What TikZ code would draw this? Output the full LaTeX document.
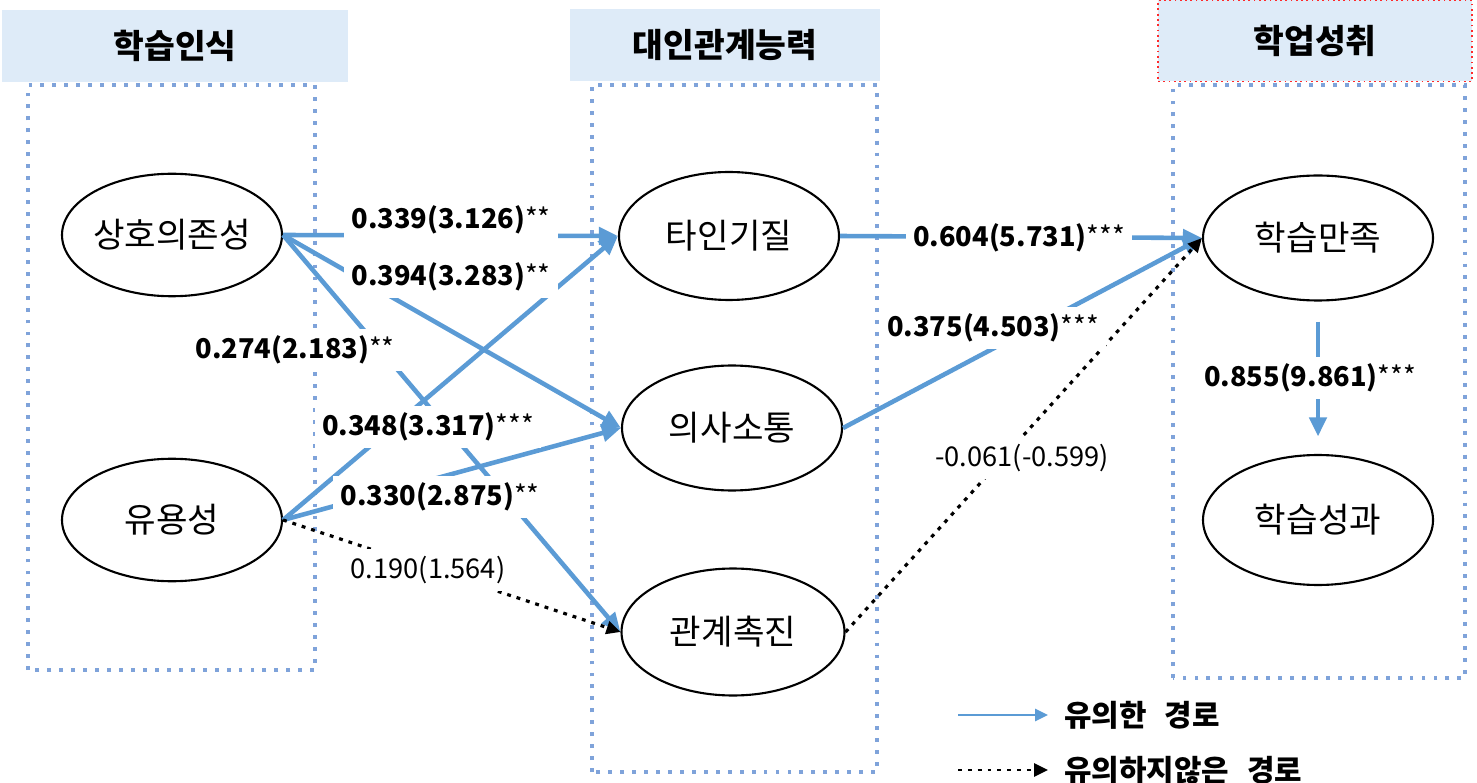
\documentclass[tikz,border=0pt]{standalone}
\usepackage{fontspec}
\setmainfont{Noto Sans CJK KR}
\usepackage{xcolor}
\usepackage{tikz}
\usetikzlibrary{shapes.geometric,arrows.meta,positioning}
\definecolor{azul}{HTML}{5B9BD5}
\definecolor{azulclaro}{HTML}{DEEBF8}
\definecolor{azulpunto}{HTML}{7FA3DA}
\definecolor{rojo}{HTML}{FF2A2A}
\tikzset{
  elipse/.style={draw,ellipse,line width=1.2pt,inner xsep=-6pt,inner ysep=0pt,minimum width=4.4cm,minimum height=2.45cm,font=\fontsize{19.5}{22}\selectfont},
  titulo/.style={fill=azulclaro,minimum height=1.45cm,font=\fontsize{19}{22}\selectfont\bfseries},
  zona/.style={draw=azulpunto,line width=1.9pt,dash pattern=on 2.2pt off 4.6pt},
  flecha/.style={-{Triangle[length=3.8mm,width=3.4mm]},line width=2.6pt,azul},
  flechap/.style={-{Triangle[length=2.8mm,width=2.6mm]},line width=1.8pt,black,dash pattern=on 2.2pt off 3.4pt},
  etiqueta/.style={fill=white,inner xsep=4pt,inner ysep=4pt,font=\fontsize{15.5}{18}\selectfont},
  leyenda/.style={anchor=west,font=\fontsize{17}{20}\selectfont\bfseries},
}

\begin{document}
\begin{tikzpicture}
  \useasboundingbox (0,0) rectangle (29.54,15.64);
  % cabeceras y zonas
  \node[titulo,minimum width=6.92cm] (h1) at (3.5,14.72) {학습인식};
  \node[titulo,minimum width=6.2cm] (h2) at (14.5,14.74) {대인관계능력};
  \node[titulo,minimum width=6.28cm,minimum height=1.62cm,draw=rojo,line width=1pt,dash pattern=on 1pt off 2pt] (h3) at (26.3,14.82) {학업성취};
  \draw[zona] (0.56,2.24) rectangle (6.3,13.94);
  \draw[zona] (11.84,0.2) rectangle (17.54,13.94);
  \draw[zona] (23.46,2.08) rectangle (29.3,13.94);

  % variables
  \node[elipse] (inter) at (3.44,10.94) {상호의존성};
  \node[elipse] (util) at (3.44,5.24) {유용성};
  \node[elipse,minimum height=2.56cm] (otros) at (14.58,10.92) {타인기질};
  \node[elipse,minimum height=2.5cm] (comun) at (14.64,7.08) {의사소통};
  \node[elipse,minimum width=4.46cm,minimum height=2.54cm] (facil) at (14.66,3.0) {관계촉진};
  \node[elipse,minimum width=4.6cm,minimum height=2.5cm] (satis) at (26.36,10.88) {학습만족};
  \node[elipse,minimum width=4.6cm,minimum height=2.6cm] (result) at (26.36,5.24) {학습성과};

  % caminos
  \draw[flecha] (inter.east) -- (otros.west);
  \draw[flecha] (inter.east) -- (comun.west);
  \draw[flecha] (inter.east) -- (facil.west);
  \draw[flecha] (util.east) -- (otros.west);
  \draw[flecha] (util.east) -- (comun.west);
  \draw[flechap] (util.east) -- (facil.west);
  \draw[flecha] (otros.east) -- (satis.west);
  \draw[flecha] (comun.east) -- (satis.west);
  \draw[flechap] (facil.east) -- (satis.west);
  \draw[flecha,shorten <=0.4cm,shorten >=0.35cm] (satis.south) -- (result.north);

  % coeficientes
  \node[etiqueta] (e1) at (9.02,11.24) {\textbf{0.339(3.126)}**};
  \node[etiqueta] (e2) at (9.02,10.1) {\textbf{0.394(3.283)}**};
  \node[etiqueta] (e3) at (5.9,8.64) {\textbf{0.274(2.183)}**};
  \node[etiqueta] (e4) at (8.56,7.1) {\textbf{0.348(3.317)}***};
  \node[etiqueta] (e5) at (8.8,5.7) {\textbf{0.330(2.875)}**};
  \node[etiqueta] (e6) at (8.56,4.24) {0.190(1.564)};
  \node[etiqueta] (e7) at (20.38,10.88) {\textbf{0.604(5.731)}***};
  \node[etiqueta] (e8) at (19.86,9.08) {\textbf{0.375(4.503)}***};
  \node[etiqueta] (e9) at (20.44,6.48) {-0.061(-0.599)};
  \node[etiqueta] (e10) at (26.2,8.08) {\textbf{0.855(9.861)}***};

  % leyenda
  \node[leyenda] (ley1) at (21.16,1.34) {유의한\hspace{0.6em}경로};
  \node[leyenda] (ley2) at (21.16,0.24) {유의하지않은\hspace{0.6em}경로};
  \coordinate (ls1) at (19.16,1.34);
  \coordinate (ls2) at (19.16,0.24);
  \draw[-{Triangle[length=2.6mm,width=2.4mm]},line width=1.6pt,azul,shorten >=0.2cm] (ls1) -- (ley1.west);
  \draw[flechap,line width=1.7pt,shorten >=0.2cm] (ls2) -- (ley2.west);
\end{tikzpicture}
\end{document}
